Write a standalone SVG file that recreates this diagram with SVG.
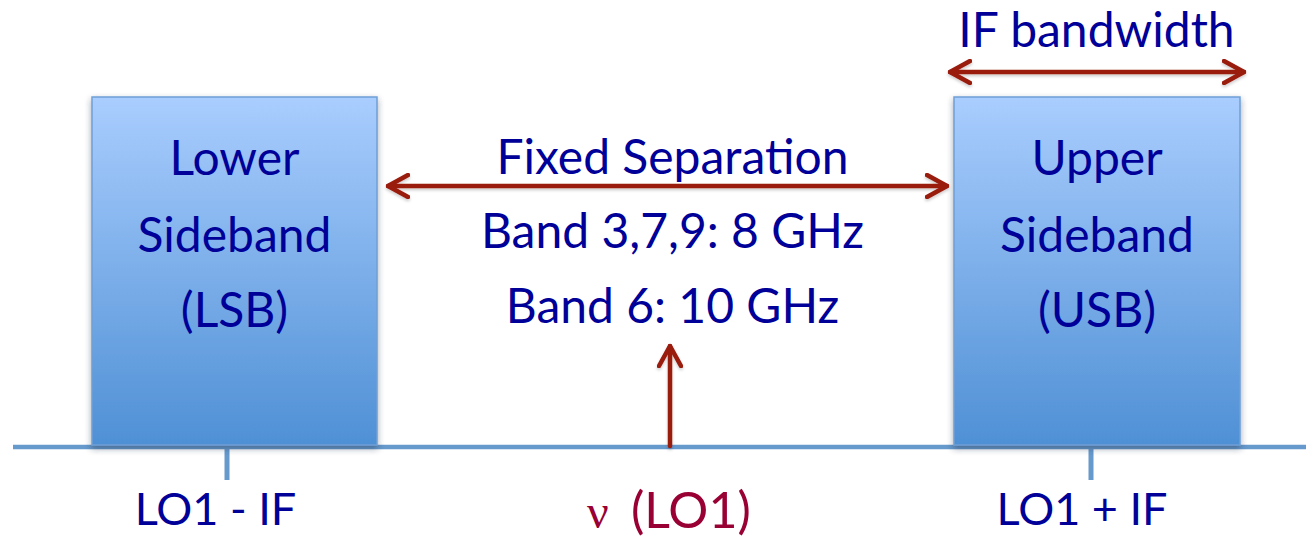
<svg xmlns="http://www.w3.org/2000/svg" width="1306" height="542" viewBox="0 0 1306 542">
<style>
.t{font-family:"Lato","Open Sans","DejaVu Sans",sans-serif;fill:#000099;text-anchor:middle}
.big{font-size:48px}
.small{font-size:45px}
.box{fill:url(#g);stroke:#6f9fd6;stroke-width:1.5}
.arr{stroke:#9a1b10;stroke-width:4.5;fill:none;stroke-linecap:round;stroke-linejoin:round}
.axis{stroke:#6699cc;fill:none}
.nu{font-family:"Liberation Serif","DejaVu Serif",serif;font-size:48px}
</style>
<defs>
<linearGradient id="g" x1="0" y1="0" x2="0" y2="1">
<stop offset="0" stop-color="#a9cdfe"/>
<stop offset="1" stop-color="#4f90d5"/>
</linearGradient>
<filter id="sh" x="-10%" y="-10%" width="120%" height="120%">
<feDropShadow dx="0" dy="3" stdDeviation="3" flood-color="#203050" flood-opacity="0.45"/>
</filter>
<filter id="ash" x="-20%" y="-20%" width="140%" height="140%">
<feDropShadow dx="0" dy="2" stdDeviation="1.5" flood-color="#000" flood-opacity="0.2"/>
</filter>
<marker id="head" viewBox="0 0 24 26" refX="22" refY="13" markerWidth="24" markerHeight="26" markerUnits="userSpaceOnUse" orient="auto-start-reverse">
<path d="M2,2 L22,13 L2,24" fill="none" stroke="#9a1b10" stroke-width="4.5" stroke-linecap="round" stroke-linejoin="round"/>
</marker>
</defs>
<rect width="1306" height="542" fill="#ffffff"/>
<g id="axis">
<line class="axis" x1="13" y1="447" x2="1306" y2="447" stroke-width="4.5"/>
<line class="axis" x1="227" y1="447" x2="227" y2="480" stroke-width="5"/>
<line class="axis" x1="1091" y1="447" x2="1091" y2="480" stroke-width="5"/>
</g>
<g id="lsb">
<rect class="box" x="92" y="97" width="285" height="348" filter="url(#sh)"/>
<text class="t big" x="234.5" y="175">Lower</text>
<text class="t big" x="234.5" y="252">Sideband</text>
<text class="t big" x="234.5" y="327">(LSB)</text>
</g>
<g id="usb">
<rect class="box" x="954" y="97" width="286" height="348" filter="url(#sh)"/>
<text class="t big" x="1097" y="175">Upper</text>
<text class="t big" x="1097" y="252">Sideband</text>
<text class="t big" x="1097" y="327">(USB)</text>
</g>
<g id="connectors" filter="url(#ash)">
<line class="arr" x1="950" y1="72" x2="1244" y2="72" marker-start="url(#head)" marker-end="url(#head)"/>
<line class="arr" x1="388" y1="186" x2="947" y2="186" marker-start="url(#head)" marker-end="url(#head)"/>
<line class="arr" x1="670" y1="446" x2="670" y2="346" marker-end="url(#head)"/>
</g>
<g id="labels">
<text class="t big" x="1096.5" y="47">IF bandwidth</text>
<text class="t big" x="672.5" y="174">Fixed Separation</text>
<text class="t big" x="672.5" y="248">Band 3,7,9: 8 GHz</text>
<text class="t big" x="672.5" y="323">Band 6: 10 GHz</text>
<text class="t small" x="215.5" y="525">LO1 - IF</text>
<text class="t" y="528" style="fill:#990033;text-anchor:start"><tspan class="nu" x="587">ν</tspan> <tspan x="631" style="font-size:50px">(LO1)</tspan></text>
<text class="t small" x="1082" y="525">LO1 + IF</text>
</g>
</svg>
